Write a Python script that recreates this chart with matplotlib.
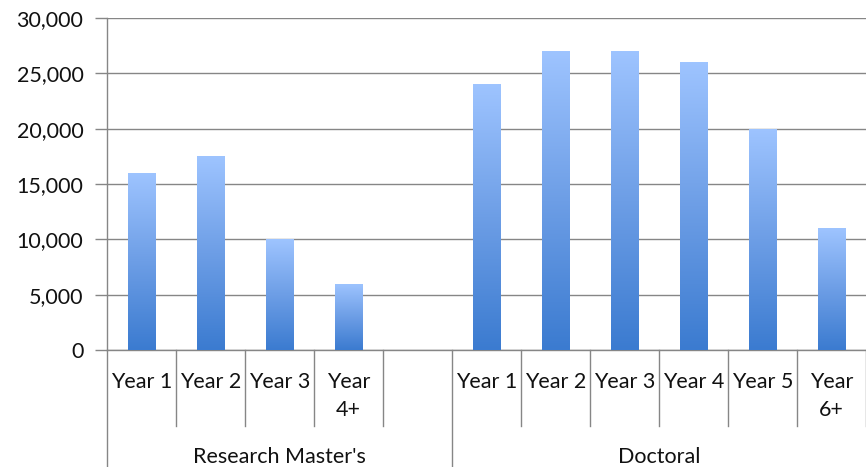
"""
Enrolment by year of study - Research Master's vs Doctoral.
Excel-style column chart with gradient bars and two-level category axis.
"""
import numpy as np
import matplotlib
matplotlib.use("Agg")
import matplotlib.pyplot as plt
from matplotlib.colors import LinearSegmentedColormap
from matplotlib.ticker import FuncFormatter
import matplotlib.transforms as mtransforms

# --- data -----------------------------------------------------------------
groups = ["Research Master's", "Doctoral"]
masters_labels = ["Year 1", "Year 2", "Year 3", "Year\n4+"]
masters_values = [16000, 17500, 10000, 6000]
doctoral_labels = ["Year 1", "Year 2", "Year 3", "Year 4", "Year 5", "Year\n6+"]
doctoral_values = [24000, 27000, 27000, 26000, 20000, 11000]
y_ticks = [0, 5000, 10000, 15000, 20000, 25000, 30000]

GRID = "#868686"
TEXT = "#111111"
FONT = ["Lato", "DejaVu Sans"]
plt.rcParams["font.family"] = FONT
FS = 15.5

# slots: masters, one empty slot, doctoral
n_m = len(masters_values)
n_d = len(doctoral_values)
n_slots = n_m + 1 + n_d
pos_m = np.arange(n_m) + 0.5
pos_d = np.arange(n_d) + n_m + 1 + 0.5
positions = np.concatenate([pos_m, pos_d])
values = masters_values + doctoral_values
labels = masters_labels + doctoral_labels

W, H = 866, 467
fig = plt.figure(figsize=(W / 100, H / 100), dpi=100)
ax = fig.add_axes([107 / W, 1 - 350 / H, (866 - 107) / W, (350 - 18) / H])

# gradient fill: light at top, darker at bottom (per bar)
cmap = LinearSegmentedColormap.from_list("excel_blue", ["#3b7bd0", "#6d9ee6", "#9ec4ff"])
grad = np.linspace(0, 1, 256).reshape(-1, 1)
bars = ax.bar(positions, values, width=0.4, color="none", edgecolor="none", zorder=3)
for b in bars:
    x0, w, h = b.get_x(), b.get_width(), b.get_height()
    im = ax.imshow(grad, cmap=cmap, origin="lower", aspect="auto",
                   extent=(x0, x0 + w, 0, h), zorder=3)
    im.set_clip_path(b)
ax.set_xlim(0, n_slots)
ax.set_ylim(0, 30000)

# axes styling
ax.set_yticks(y_ticks)
ax.yaxis.set_major_formatter(FuncFormatter(lambda v, _: f"{int(v):,}"))
ax.yaxis.grid(True, color=GRID, linewidth=1, zorder=0)
ax.set_axisbelow(True)
ax.tick_params(axis="y", length=9, width=1, color=GRID, pad=8,
               labelsize=FS, labelcolor=TEXT)
ax.set_xticks([])
for s in ["top", "right"]:
    ax.spines[s].set_visible(False)
for s in ["left", "bottom"]:
    ax.spines[s].set_color(GRID)
    ax.spines[s].set_linewidth(1)

# two-level category axis
trans = mtransforms.blended_transform_factory(ax.transData, ax.transAxes)
short_y = -76 / 332
long_y = -117 / 332
for x in range(n_slots + 1):
    bottom = long_y if x in (0, n_m + 1) else short_y
    ax.plot([x, x], [0, bottom], color=GRID, lw=1, transform=trans, clip_on=False)

for x, lab in zip(positions, labels):
    ax.text(x, -22 / 332, lab, transform=trans, ha="center", va="top",
            fontsize=FS, color=TEXT, linespacing=1.5)

group_centers = [(0 + n_m + 1) / 2, (n_m + 1 + n_slots) / 2]
for x, g in zip(group_centers, groups):
    ax.text(x, -107 / 332, g, transform=trans, ha="center", va="center",
            fontsize=FS, color=TEXT)

fig.savefig("out.png", dpi=100)
